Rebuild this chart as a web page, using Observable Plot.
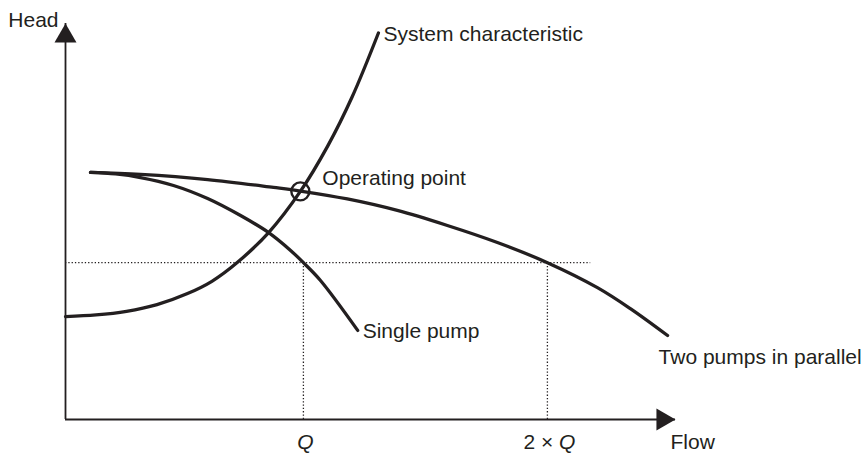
<!DOCTYPE html>
<html>
<head>
<meta charset="utf-8">
<script src="https://cdn.jsdelivr.net/npm/d3@7"></script>
<script src="https://cdn.jsdelivr.net/npm/@observablehq/plot@0.6"></script>
<style>
  html, body { margin: 0; padding: 0; background: #fff; }
  #chart svg { display: block; }
</style>
</head>
<body>
<div id="chart"></div>
<script>
// Flow (x) and head (y) in arbitrary schematic units (0–100)
const singlePumpFlow = [4.1, 8.2, 12.3, 17.7, 23.3, 28.7, 33.3, 36.9, 39.0, 41.8, 47.9];
const singlePumpHead = [62.4, 62.0, 61.1, 59.1, 55.8, 51.5, 47.2, 42.7, 39.6, 35.1, 22.5];

const twoPumpFlow = [4.1, 12.3, 23.3, 34.1, 38.5, 46.2, 54.4, 62.6, 70.8, 79.0, 87.2, 92.6, 98.7];
const twoPumpHead = [62.4, 61.9, 60.6, 58.6, 57.7, 55.7, 52.8, 49.0, 44.7, 39.6, 33.3, 28.0, 21.2];

const systemFlow = [0, 5, 10, 15, 20, 24, 28.2, 33.3, 38.5, 43, 47, 51.3];
const systemHead = [26.0, 26.4, 27.3, 29.0, 31.8, 34.9, 39.7, 47.2, 57.6, 69.1, 81.5, 97.6];

const operatingPoint = {flow: 38.5, head: 57.6};

const dutyHead = 39.6;          // head of the dotted horizontal
const dutyLineEnd = 86.1;       // flow where the dotted horizontal stops
const flowTicks = [39, 79];
const flowTickLabels = ["Q", "2 × Q"];
const axisMax = 100;

const seriesLabels = ["Single pump", "Two pumps in parallel", "System characteristic"];

const toPts = (xs, ys) => xs.map((x, i) => ({x, y: ys[i]}));
const single = toPts(singlePumpFlow, singlePumpHead);
const two = toPts(twoPumpFlow, twoPumpHead);
const sys = toPts(systemFlow, systemHead);

const ink = "#231f20";
const font = "'Liberation Sans', Arial, Helvetica, sans-serif";

const plot = Plot.plot({
  width: 865,
  height: 453,
  marginTop: 0, marginRight: 0, marginBottom: 0, marginLeft: 0,
  x: {domain: [0, axisMax], range: [65, 675], axis: null},
  y: {domain: [0, axisMax], range: [419, 23], axis: null},
  style: {fontFamily: font, fontSize: "21px", color: ink, background: "#fff"},
  marks: [
    // dotted guides
    Plot.ruleY([dutyHead], {x1: 0, x2: dutyLineEnd, stroke: ink, strokeWidth: 1.3, strokeDasharray: "1.3,2"}),
    Plot.ruleX(flowTicks, {y1: 0, y2: dutyHead, stroke: ink, strokeWidth: 1.3, strokeDasharray: "1.3,2"}),
    // axes
    Plot.ruleX([0], {y1: 0, y2: axisMax, stroke: ink, strokeWidth: 1.8}),
    Plot.ruleY([0], {x1: 0, x2: axisMax, stroke: ink, strokeWidth: 1.8}),
    Plot.dot([{x: 0, y: axisMax}], {x: "x", y: "y", symbol: "triangle2", r: 10.5, fill: ink, stroke: null, dy: 12.7}),
    Plot.dot([{x: axisMax, y: 0}], {x: "x", y: "y", symbol: "triangle2", r: 10.5, fill: ink, stroke: null, rotate: 90, dx: -12.7}),
    // curves
    Plot.line(sys, {x: "x", y: "y", curve: "catmull-rom", stroke: ink, strokeWidth: 3.3}),
    Plot.line(two, {x: "x", y: "y", curve: "catmull-rom", stroke: ink, strokeWidth: 3.3}),
    Plot.line(single, {x: "x", y: "y", curve: "catmull-rom", stroke: ink, strokeWidth: 3.3}),
    // operating point
    Plot.dot([operatingPoint], {x: "flow", y: "head", r: 9, fill: "none", stroke: ink, strokeWidth: 2.4}),
    // labels
    Plot.text([operatingPoint], {x: "flow", y: "head", text: () => "Operating point", textAnchor: "start", lineAnchor: "bottom", dx: 22, dy: -6, fill: ink}),
    Plot.text([single[single.length - 1]], {x: "x", y: "y", text: () => seriesLabels[0], textAnchor: "start", lineAnchor: "bottom", dx: 5, dy: 8, fill: ink}),
    Plot.text([two[two.length - 1]], {x: "x", y: "y", text: () => seriesLabels[1], textAnchor: "start", lineAnchor: "bottom", dx: -9, dy: 28, fill: ink}),
    Plot.text([sys[sys.length - 1]], {x: "x", y: "y", text: () => seriesLabels[2], textAnchor: "start", lineAnchor: "bottom", dx: 5, dy: 8, fill: ink}),
    Plot.text(["Head"], {x: 0, y: axisMax, text: d => d, textAnchor: "end", lineAnchor: "bottom", dx: -7, dy: 3, fill: ink}),
    Plot.text(flowTicks, {x: d => d, y: 0, text: (d, i) => flowTickLabels[i], textAnchor: "middle", lineAnchor: "bottom", dx: 2, dy: 29, fill: ink}),
    Plot.text(["Flow"], {x: axisMax, y: 0, text: d => d, textAnchor: "start", lineAnchor: "bottom", dx: -5, dy: 29, fill: ink})
  ]
});

// italicise the Q symbol in tick labels
plot.querySelectorAll("text").forEach(t => {
  const s = t.textContent;
  if (s.endsWith("Q") && s.length <= 6) {
    const pre = s.slice(0, -1);
    t.textContent = "";
    if (pre) {
      const a = document.createElementNS("http://www.w3.org/2000/svg", "tspan");
      a.textContent = pre;
      t.appendChild(a);
    }
    const b = document.createElementNS("http://www.w3.org/2000/svg", "tspan");
    b.setAttribute("font-style", "italic");
    b.textContent = "Q";
    t.appendChild(b);
  }
});

document.getElementById("chart").appendChild(plot);
</script>
</body>
</html>
